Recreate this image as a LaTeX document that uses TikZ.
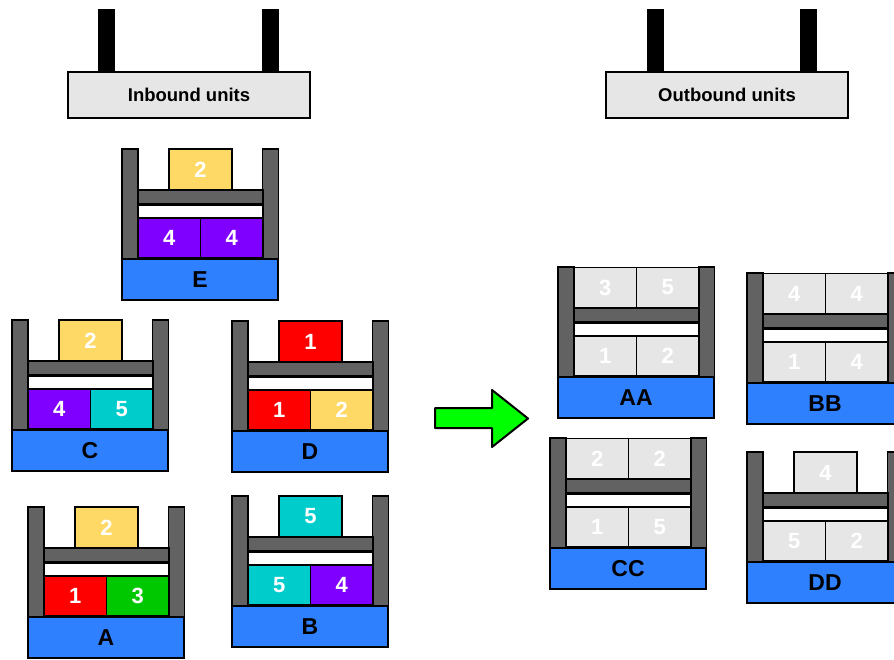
\documentclass[tikz,border=0pt]{standalone}
\usepackage{fontspec}
\setmainfont{Liberation Sans}
\definecolor{postgray}{HTML}{626262}
\definecolor{cyel}{HTML}{FFD966}
\definecolor{cpur}{HTML}{7F00FF}
\definecolor{ccya}{HTML}{00CCCC}
\definecolor{cred}{HTML}{FF0000}
\definecolor{cgrn}{HTML}{00C800}
\definecolor{cblu}{HTML}{2F80FF}
\definecolor{cgry}{HTML}{E6E6E6}
\definecolor{carr}{HTML}{00FF00}
\tikzset{
  frm/.style={draw=black, line width=1.9pt, inner sep=0pt, anchor=center},
  post/.style={frm, fill=postgray, minimum width=16pt, minimum height=110pt},
  shelf/.style={frm, fill=postgray, minimum width=125pt, minimum height=14pt},
  gapbox/.style={frm, fill=white, minimum width=125pt, minimum height=12pt},
  basebox/.style={frm, fill=cblu, minimum width=156pt, minimum height=41pt, text=black, font=\bfseries\fontsize{23}{23}\selectfont},
  cargo/.style={frm, minimum width=62.5pt, minimum height=40pt, text=white, font=\bfseries\fontsize{22}{22}\selectfont},
  ocargo/.style={cargo, fill=cgry},
  unit/.style={draw=black, line width=1.5pt, fill=cgry, minimum width=242pt, minimum height=46pt, inner sep=0pt, font=\bfseries\fontsize{18.5}{18.5}\selectfont},
  blackpost/.style={draw=none, fill=black, minimum width=17pt, minimum height=63pt, inner sep=0pt},
  arrowshape/.style={draw=black, line width=2pt, fill=carr, line join=round}
}
% rack: name, x, y, label, contents
\newcommand\rack[5]{%
  \begin{scope}[shift={(#2,#3)}]
    \node[post] (#1-pl) at (8,55) {};
    \node[post] (#1-pr) at (148.5,55) {};
    \node[shelf] (#1-bar) at (78.5,48) {};
    \node[gapbox] (#1-gap) at (78.5,62.5) {};
    #5
    \node[basebox] (#1-base) at (78,130.5) {#4};
  \end{scope}}
% single top box: name, style, color, number
\newcommand\topone[4]{\node[#2, fill=#3, minimum width=63pt, minimum height=41pt] (#1) at (78.5,20.5) {#4};}
% cells: name, style, y, color, number
\newcommand\cellL[5]{\node[#2, fill=#4] (#1) at (47.25,#3) {#5};}
\newcommand\cellR[5]{\node[#2, fill=#4] (#1) at (109.75,#3) {#5};}
\begin{document}
\begin{tikzpicture}[x=1pt, y=-1pt]
  \useasboundingbox (0,0) rectangle (894,659);
  \clip (0,0) rectangle (894,659);
  % unit bars
  \node[blackpost] (ip1) at (106.5,40.5) {};
  \node[blackpost] (ip2) at (270.5,40.5) {};
  \node[unit] (inb) at (189,95) {Inbound units};
  \node[blackpost] (op1) at (655.5,40.5) {};
  \node[blackpost] (op2) at (808.5,40.5) {};
  \node[unit] (outb) at (727,95) {Outbound units};
  % inbound racks
  \rack{E}{122}{149}{E}{\topone{E-t}{cargo}{cyel}{2}\cellL{E-l}{cargo}{89}{cpur}{4}\cellR{E-r}{cargo}{89}{cpur}{4}}
  \rack{C}{12}{320}{C}{\topone{C-t}{cargo}{cyel}{2}\cellL{C-l}{cargo}{89}{cpur}{4}\cellR{C-r}{cargo}{89}{ccya}{5}}
  \rack{D}{232}{321}{D}{\topone{D-t}{cargo}{cred}{1}\cellL{D-l}{cargo}{89}{cred}{1}\cellR{D-r}{cargo}{89}{cyel}{2}}
  \rack{A}{28}{507}{A}{\topone{A-t}{cargo}{cyel}{2}\cellL{A-l}{cargo}{89}{cred}{1}\cellR{A-r}{cargo}{89}{cgrn}{3}}
  \rack{B}{232}{496}{B}{\topone{B-t}{cargo}{ccya}{5}\cellL{B-l}{cargo}{89}{ccya}{5}\cellR{B-r}{cargo}{89}{cpur}{4}}
  % arrow
  \draw[arrowshape] (435,408) -- (492,408) -- (492,390) -- (528,418.5) -- (492,447) -- (492,428) -- (435,428) -- cycle;
  % outbound racks
  \rack{AA}{558}{267}{AA}{\cellL{AA-1}{ocargo}{20.5}{cgry}{3}\cellR{AA-2}{ocargo}{20.5}{cgry}{5}\cellL{AA-3}{ocargo}{89}{cgry}{1}\cellR{AA-4}{ocargo}{89}{cgry}{2}}
  \rack{BB}{747}{273}{BB}{\cellL{BB-1}{ocargo}{20.5}{cgry}{4}\cellR{BB-2}{ocargo}{20.5}{cgry}{4}\cellL{BB-3}{ocargo}{89}{cgry}{1}\cellR{BB-4}{ocargo}{89}{cgry}{4}}
  \rack{CC}{550}{438}{CC}{\cellL{CC-1}{ocargo}{20.5}{cgry}{2}\cellR{CC-2}{ocargo}{20.5}{cgry}{2}\cellL{CC-3}{ocargo}{89}{cgry}{1}\cellR{CC-4}{ocargo}{89}{cgry}{5}}
  \rack{DD}{747}{452}{DD}{\topone{DD-t}{ocargo}{cgry}{4}\cellL{DD-l}{ocargo}{89}{cgry}{5}\cellR{DD-r}{ocargo}{89}{cgry}{2}}
\end{tikzpicture}
\end{document}
